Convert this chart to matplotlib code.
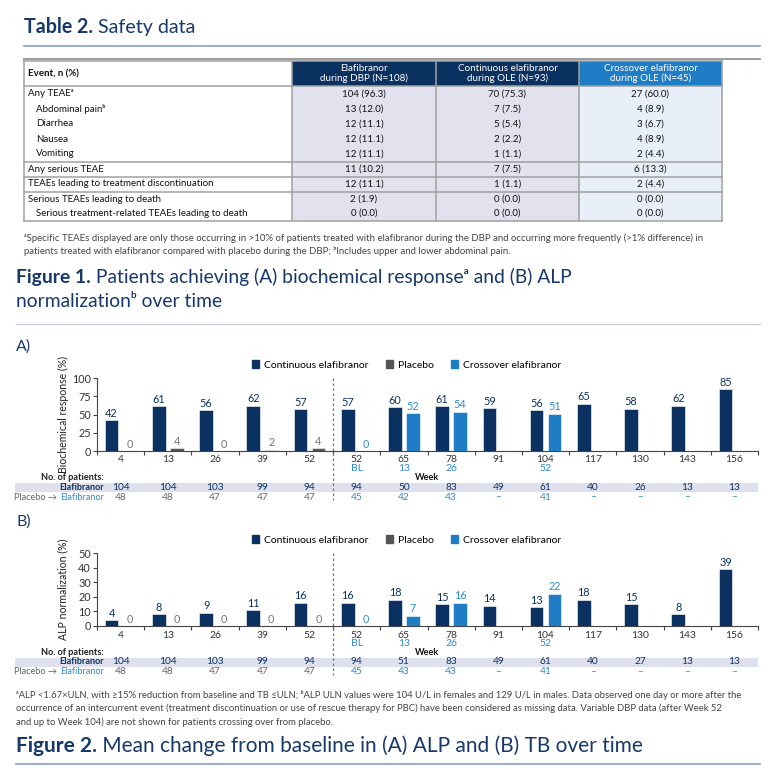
import numpy as np
import matplotlib
matplotlib.use("Agg")
import matplotlib.pyplot as plt
from matplotlib.patches import Rectangle, Patch
from matplotlib.transforms import blended_transform_factory

plt.rcParams['font.family'] = ['Lato', 'DejaVu Sans']

W, H = 784, 770
NAVY = '#0b3160'
TITLE = '#17386b'
GREY_BAR = '#555555'
CROSS = '#1f7dc6'
LBLUE = '#2f8ad2'
BAND = '#dfe0ee'
TXT = '#333333'

# ---- table data ----
events = ["Any TEAEᵃ", "Abdominal painᵇ", "Diarrhea", "Nausea", "Vomiting",
          "Any serious TEAE", "TEAEs leading to treatment discontinuation",
          "Serious TEAEs leading to death",
          "Serious treatment-related TEAEs leading to death"]
indent = [0, 1, 1, 1, 1, 0, 0, 0, 1]
dbp = ["104 (96.3)", "13 (12.0)", "12 (11.1)", "12 (11.1)", "12 (11.1)",
       "11 (10.2)", "12 (11.1)", "2 (1.9)", "0 (0.0)"]
ole_cont = ["70 (75.3)", "7 (7.5)", "5 (5.4)", "2 (2.2)", "1 (1.1)",
            "7 (7.5)", "1 (1.1)", "0 (0.0)", "0 (0.0)"]
ole_cross = ["27 (60.0)", "4 (8.9)", "3 (6.7)", "4 (8.9)", "2 (4.4)",
             "6 (13.3)", "2 (4.4)", "0 (0.0)", "0 (0.0)"]
headers = ["Elafibranor\nduring DBP (N=108)",
           "Continuous elafibranor\nduring OLE (N=93)",
           "Crossover elafibranor\nduring OLE (N=45)"]

# ---- chart data ----
weeks = ["4", "13", "26", "39", "52", "52", "65", "78", "91", "104", "117", "130", "143", "156"]
weeks2 = ["", "", "", "", "", "BL", "13", "26", "", "52", "", "", "", ""]

bio_cont = [42, 61, 56, 62, 57, 57, 60, 61, 59, 56, 65, 58, 62, 85]
bio_plac = [0, 4, 0, 2, 4]
cross_pos = [5, 6, 7, 9]
bio_cross = [0, 52, 54, 51]
bio_n_elaf = ["104", "104", "103", "99", "94", "94", "50", "83", "49", "61", "40", "26", "13", "13"]
bio_n_plac = ["48", "48", "47", "47", "47", "45", "42", "43", "–", "41", "–", "–", "–", "–"]

alp_cont = [4, 8, 9, 11, 16, 16, 18, 15, 14, 13, 18, 15, 8, 39]
alp_plac = [0, 0, 0, 0, 0]
alp_cross = [0, 7, 16, 22]
alp_n_elaf = ["104", "104", "103", "99", "94", "94", "51", "83", "49", "61", "40", "27", "13", "13"]
alp_n_plac = ["48", "48", "47", "47", "47", "45", "43", "43", "–", "41", "–", "–", "–", "–"]

fig = plt.figure(figsize=(W / 100, H / 100), dpi=100)
bg = fig.add_axes([0, 0, 1, 1])
bg.set_xlim(0, W)
bg.set_ylim(H, 0)
bg.axis('off')
renderer = fig.canvas.get_renderer()


def title(x, y, bold, rest, size):
    t = bg.text(x, y, bold, fontsize=size, fontweight='bold', color=TITLE, va='baseline')
    bb = t.get_window_extent(renderer)
    bg.text(bb.x1, y, rest, fontsize=size, color=TITLE, va='baseline')


# ---- Table 2 ----
title(24, 33, "Table 2.", " Safety data", 14.1)
bg.plot([24, 760], [46, 46], color='#8aa0c4', lw=1.2)
bg.plot([24, 760], [59, 59], color='#9b9b9b', lw=1.4)

cols = [24, 292, 436, 579, 722]
top, head_bot, bot = 61, 86, 221
bg.add_patch(Rectangle((cols[1], top), cols[3] - cols[1], head_bot - top, color=NAVY, lw=0))
bg.add_patch(Rectangle((cols[3], top), cols[4] - cols[3], head_bot - top, color=CROSS, lw=0))
bg.add_patch(Rectangle((cols[1], head_bot), cols[3] - cols[1], bot - head_bot, color='#e1e2ee', lw=0))
bg.add_patch(Rectangle((cols[3], head_bot), cols[4] - cols[3], bot - head_bot, color='#e9eff8', lw=0))
for i, h in enumerate(headers):
    bg.text((cols[i + 1] + cols[i + 2]) / 2, 73.5, h, color='white', fontsize=7.1,
            ha='center', va='center', linespacing=1.15)
bg.text(28, 73.5, "Event, n (%)", fontsize=7.0, fontweight='bold', va='center', color='#111')

row_y = 94 + 15 * np.arange(len(events))
for i, ev in enumerate(events):
    y = row_y[i] - (1 if i == 8 else 0)
    bg.text(28 + 8 * indent[i], y, ev, fontsize=7.0, va='center', color='#111')
    for j, v in enumerate([dbp[i], ole_cont[i], ole_cross[i]]):
        bg.text((cols[j + 1] + cols[j + 2]) / 2, y, v, fontsize=7.0,
                ha='center', va='center', color='#111')

lc = '#a0a0a0'
for yy in [top, head_bot, 161.5, 176.5, 191.5, bot]:
    bg.plot([cols[0], cols[4]], [yy, yy], color=lc, lw=1.1)
for xx in cols:
    bg.plot([xx, xx], [top, bot], color=lc, lw=1.1)

bg.text(24, 238, "ᵃSpecific TEAEs displayed are only those occurring in >10% of patients treated with "
        "elafibranor during the DBP and occurring more frequently (>1% difference) in",
        fontsize=6.9, color='#444', va='center')
bg.text(24, 251, "patients treated with elafibranor compared with placebo during the DBP; "
        "ᵇIncludes upper and lower abdominal pain.", fontsize=6.9, color='#444', va='center')

# ---- Figure 1 ----
title(16, 283, "Figure 1.", " Patients achieving (A) biochemical responseᵃ and (B) ALP", 13.9)
bg.text(16, 307, "normalizationᵇ over time", fontsize=13.9, color=TITLE, va='baseline')
bg.plot([16, 760], [324, 324], color='#c8ccd6', lw=1.0)


def chart(top_px, ymax, yticks, cont, plac, cross, n_elaf, n_plac, ylabel, panel):
    bottom = top_px + 73
    ax = fig.add_axes([97 / W, 1 - bottom / H, 661 / W, 73 / H])
    x = np.arange(len(weeks))
    ax.bar(x - 0.19, cont, 0.29, color=NAVY, edgecolor='white', lw=0.4, zorder=3)
    ax.bar(x[:5] + 0.19, plac, 0.29, color=GREY_BAR, edgecolor='white', lw=0.4, zorder=3)
    ax.bar(np.array(cross_pos) + 0.19, cross, 0.29, color=CROSS, edgecolor='white', lw=0.4, zorder=3)
    for xi, v in zip(x, cont):
        ax.annotate(str(v), (xi - 0.19, v), xytext=(0, 1), textcoords='offset points',
                    ha='center', va='bottom', fontsize=7.8, color=NAVY)
    for xi, v in zip(x[:5], plac):
        ax.annotate(str(v), (xi + 0.19, v), xytext=(0, 1), textcoords='offset points',
                    ha='center', va='bottom', fontsize=7.8, color='#777')
    for xi, v in zip(cross_pos, cross):
        ax.annotate(str(v), (xi + 0.19, v), xytext=(0, 1), textcoords='offset points',
                    ha='center', va='bottom', fontsize=7.8, color=LBLUE)
    ax.set_xlim(-0.5, 13.5)
    ax.set_ylim(0, ymax)
    ax.set_yticks(yticks)
    ax.set_xticks(np.arange(-0.5, 14, 1))
    ax.set_xticklabels([])
    ax.tick_params(axis='y', labelsize=7.8, labelcolor=TXT, length=3, width=0.8, color='#444', pad=1.5)
    ax.tick_params(axis='x', length=3, width=0.8, color='#444')
    for s in ['top', 'right']:
        ax.spines[s].set_visible(False)
    for s in ['left', 'bottom']:
        ax.spines[s].set_color('#444')
        ax.spines[s].set_linewidth(0.8)
    ax.patch.set_alpha(0)
    ax.plot([4.5, 4.5], [top_px, bottom + 49], color='#777', lw=0.9, ls=(0, (2, 2)),
            transform=blended_transform_factory(ax.transData, bg.transData), clip_on=False)

    tr = blended_transform_factory(ax.transData, bg.transData)
    for xi, w1, w2 in zip(x, weeks, weeks2):
        bg.text(xi, bottom + 9, w1, transform=tr, ha='center', va='center', fontsize=7.5, color=TXT)
        if w2:
            bg.text(xi, bottom + 17.5, w2, transform=tr, ha='center', va='center', fontsize=7.5, color=LBLUE)
    bg.text(427, bottom + 26.5, "Week", ha='center', va='center', fontsize=6.6, fontweight='bold', color='#111')
    bg.text(104, bottom + 26.5, "No. of patients:", ha='right', va='center', fontsize=6.6,
            fontweight='bold', color='#222')
    bg.add_patch(Rectangle((15, bottom + 32), 758 - 15, 8.5, color=BAND, lw=0, zorder=0))
    bg.text(104, bottom + 36, "Elafibranor", ha='right', va='center', fontsize=6.6,
            fontweight='bold', color=NAVY)
    el = bg.text(104, bottom + 46, "Elafibranor", ha='right', va='center', fontsize=6.6, color=LBLUE)
    left_px = el.get_window_extent(renderer).x0
    bg.text(left_px - 3, bottom + 46, "Placebo →", ha='right', va='center', fontsize=6.6, color='#666')
    for xi, n1, n2 in zip(x, n_elaf, n_plac):
        bg.text(xi, bottom + 36, n1, transform=tr, ha='center', va='center', fontsize=7.3, color=NAVY)
        bg.text(xi, bottom + 46, n2, transform=tr, ha='center', va='center', fontsize=7.3,
                color='#666' if xi < 5 else LBLUE)

    bg.text(63, (top_px + bottom) / 2, ylabel, rotation=90, ha='center', va='center',
            fontsize=7.6, color='#222')
    bg.text(16, top_px - 31, panel, fontsize=11.5, color=TITLE, va='center')

    handles = [Patch(color=NAVY), Patch(color=GREY_BAR), Patch(color=CROSS)]
    fig.legend(handles, ["Continuous elafibranor", "Placebo", "Crossover elafibranor"],
               loc='center left', bbox_to_anchor=(252 / W, 1 - (top_px - 13) / H),
               ncol=3, frameon=False, fontsize=7.5, handlelength=0.7, handleheight=0.7,
               handletextpad=0.5, columnspacing=1.6, borderaxespad=0, borderpad=0)
    return ax


chart(378, 100, [0, 25, 50, 75, 100], bio_cont, bio_plac, bio_cross,
      bio_n_elaf, bio_n_plac, "Biochemical response (%)", "A)")
chart(553, 50, [0, 10, 20, 30, 40, 50], alp_cont, alp_plac, alp_cross,
      alp_n_elaf, alp_n_plac, "ALP normalization (%)", "B)")

# ---- bottom footnote ----
foot = ["ᵃALP <1.67×ULN, with ≥15% reduction from baseline and TB ≤ULN; ᵇALP ULN values were 104 U/L "
        "in females and 129 U/L in males. Data observed one day or more after the",
        "occurrence of an intercurrent event (treatment discontinuation or use of rescue therapy for PBC) "
        "have been considered as missing data. Variable DBP data (after Week 52",
        "and up to Week 104) are not shown for patients crossing over from placebo."]
for i, line in enumerate(foot):
    bg.text(16, 695 + 13.5 * i, line, fontsize=6.85, color='#444', va='center')

title(16, 752, "Figure 2.", " Mean change from baseline in (A) ALP and (B) TB over time", 15)
bg.plot([16, 760], [764, 764], color='#8aa0c4', lw=1.2)

fig.savefig("out.png", dpi=100)
